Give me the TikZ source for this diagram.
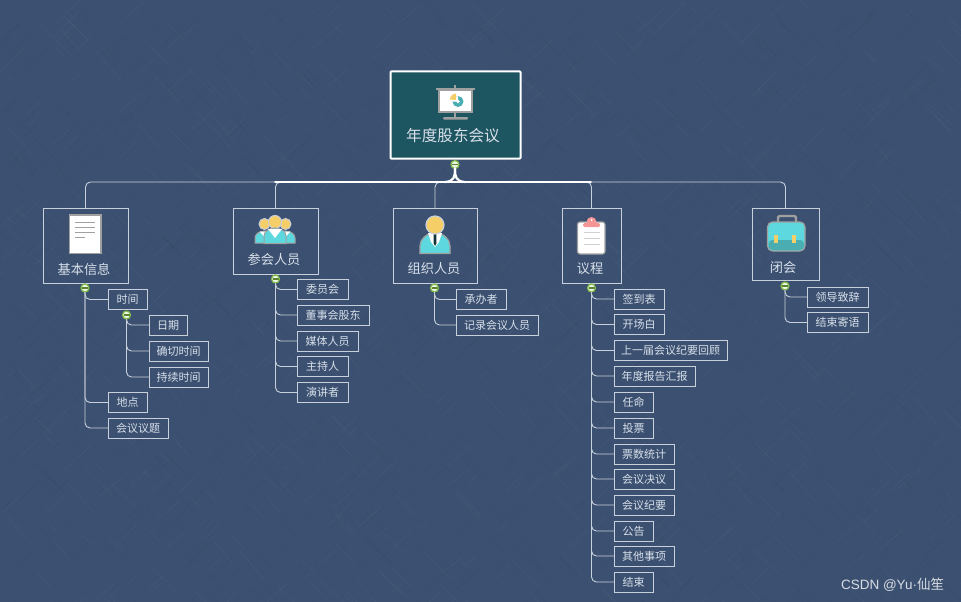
\documentclass[tikz,border=0pt]{standalone}
\usepackage{fontspec}
\setmainfont{Noto Sans CJK SC}
\newfontfamily\marksans{Liberation Sans}
\usepackage{xcolor}
\definecolor{colorbg}{RGB}{60,81,113}
\definecolor{colorroot}{RGB}{29,85,96}
\definecolor{colorline}{RGB}{200,208,220}
\definecolor{colortext}{RGB}{216,224,234}
\definecolor{colorgrn}{RGB}{130,188,72}
\definecolor{colorgrey}{RGB}{160,160,160}
\definecolor{colorteal}{RGB}{92,216,222}
\definecolor{colorsun}{RGB}{246,206,104}
\definecolor{colorpink}{RGB}{244,150,150}

\tikzset{
  every node/.style={outer sep=0pt, inner sep=0pt, text=colortext},
  rootbox/.style={draw=white, fill=colorroot, line width=2pt, minimum width=130pt, minimum height=87pt, rounded corners=0.8pt},
  catbox/.style={draw=colorline, line width=0.9pt},
  leafbox/.style={draw=colorline, line width=0.9pt, minimum height=20pt, font=\fontsize{11}{11}\selectfont},
  cattext/.style={font=\fontsize{13.2}{13.2}\selectfont},
  fold/.style={circle, draw=colorgrn, fill=white!85!colorgrn, line width=1.2pt, minimum size=8pt,
    path picture={\fill[colorgrn!70!black] ([xshift=-3pt,yshift=-0.8pt]path picture bounding box.center) rectangle ([xshift=3pt,yshift=0.8pt]path picture bounding box.center);}},
  link/.style={draw=colorline, line width=0.9pt, rounded corners=5pt},
  bus/.style={draw=white, line cap=round},
  boardicon/.pic={
    \fill[colorgrey] (-1,-17) rectangle (1,-13);
    \fill[colorgrey] (-19,-14.5) rectangle (20,-12.5);
    \draw[colorgrey, fill=white, line width=1.2pt] (-16,-12) rectangle (17,10);
    \fill[colorgrey] (-1,10) rectangle (1,15);
    \fill[colorgrey, rounded corners=1pt] (-12,15) rectangle (13,17.5);
    \fill[colorteal!80!black] (3,-0.5) circle (5.5);
    \fill[white] (3,-0.5) -- (3,-6) arc (-90:-180:5.5) -- cycle;
    \fill[white] (3,-0.5) circle (1.8);
    \fill[colorsun] (1,-2) -- (1,-8.5) arc (-90:-180:6) -- cycle;
  },
  docicon/.pic={
    \draw[colorgrey, fill=white, line width=1.6pt] (-15.5,-19) rectangle (16,19.5);
    \foreach \yy/\xx in {-12/10,-7/10,-2/10,3/0}
      \draw[colorgrey, line width=1pt] (-10,\yy) -- (\xx,\yy);
  },
  teamicon/.pic={
    \foreach \xx in {-10.5,10.5} {
      \draw[colorline, fill=colorsun, line width=1pt] (\xx,-6) circle (5.5);
      \draw[colorgrey, fill=colorteal, line width=1pt] (\xx-9.5,13) -- (\xx-9.5,8) arc (180:360:9.5 and 7) -- (\xx+9.5,13) -- cycle;
      \fill[white] (\xx-5,1.5) -- (\xx+5,1.5) -- (\xx,7) -- cycle;
    }
    \draw[colorline, fill=colorsun, line width=1pt] (0,-8) circle (6.5);
    \draw[colorgrey, fill=colorteal, line width=1pt] (-11,13.5) -- (-11,6) arc (180:360:11 and 8) -- (11,13.5) -- cycle;
    \fill[white] (-7,-1) -- (7,-1) -- (0,8) -- cycle;
  },
  personicon/.pic={
    \draw[colorgrey, fill=colorteal, line width=1.2pt] (-15,19.5) -- (-15,12) arc (180:360:15 and 13) -- (15,19.5) -- cycle;
    \fill[white] (-7,-1) -- (7,-1) -- (4,8) -- (0,13) -- (-4,8) -- cycle;
    \fill[colorroot!60!black] (-1.3,-1) -- (1.3,-1) -- (1.5,9) -- (0,12) -- (-1.5,9) -- cycle;
    \draw[colorline, fill=colorsun, line width=1.2pt] (0,-9) circle (9);
  },
  clipicon/.pic={
    \draw[colorgrey, fill=white, line width=1.2pt, rounded corners=2.5pt] (-13.5,-12) rectangle (14,20);
    \fill[colorpink, rounded corners=1.5pt] (-8,-11) rectangle (9,-7);
    \fill[colorpink] (0.5,-12) circle (5);
    \fill[white] (0.5,-14) circle (1);
    \foreach \yy in {-2,4,10}
      \draw[colorgrey!50, line width=1pt] (-7,\yy) -- (9,\yy);
  },
  bagicon/.pic={
    \draw[colorgrey, line width=2.4pt, rounded corners=2pt] (-7,-10) -- (-7,-16) -- (11,-16) -- (11,-10);
    \draw[colorgrey, fill=colorteal, line width=1.2pt, rounded corners=5pt] (-17.5,-10) rectangle (20,19);
    \fill[colorteal!80!black, rounded corners=4pt] (-16.5,8) rectangle (19,18);
    \fill[colorsun] (-11,3) rectangle (-7,11);
    \fill[colorsun] (7,3) rectangle (11,11);
  },
}

\begin{document}
\begin{tikzpicture}[x=1pt,y=-1pt]
\useasboundingbox (0,0) rectangle (961,602);

% background
\fill[colorbg] (0,0) rectangle (961,602);
\pgfmathsetseed{42}
\begin{scope}
\clip (0,0) rectangle (961,602);
\foreach \i in {1,...,1800} {
  \pgfmathsetmacro{\xa}{rnd*961}
  \pgfmathsetmacro{\ya}{rnd*602}
  \pgfmathsetmacro{\len}{10+rnd*30}
  \pgfmathsetmacro{\ang}{(mod(\i,2)==0 ? 42 : 133)+rnd*8}
  \pgfmathsetmacro{\shade}{mod(\i,3)==0 ? "white" : "black"}
  \draw[\shade, opacity=0.04, line width=0.5pt] (\xa,\ya) -- ++(\ang:\len);
}
\end{scope}

% root
\node[rootbox] (root) at (455.5,115) {};
\pic at (455,102) {boardicon};
\node[font=\fontsize{15.6}{15.6}\selectfont] (roottext) at (453,136) {年度股东会议};
\node[fold] (foldroot) at (455,164.5) {};

% categories
\node[catbox, minimum width=85pt, minimum height=75pt] (info) at (85.5,245.5) {};
\node[catbox, minimum width=85pt, minimum height=66pt] (attend) at (275.5,241) {};
\node[catbox, minimum width=84pt, minimum height=75pt] (organ) at (435,245.5) {};
\node[catbox, minimum width=59pt, minimum height=75pt] (agenda) at (591.5,245.5) {};
\node[catbox, minimum width=67pt, minimum height=72pt] (closing) at (785.5,244) {};

\pic at (85,234) {docicon};
\pic at (275,230) {teamicon};
\pic at (435,234) {personicon};
\pic at (591,234) {clipicon};
\pic at (785,232) {bagicon};

\node[cattext] (infotext) at (84,269) {基本信息};
\node[cattext] (attendtext) at (274,259) {参会人员};
\node[cattext] (organtext) at (434,269) {组织人员};
\node[cattext] (agendatext) at (590,269) {议程};
\node[cattext] (closingtext) at (783,267) {闭会};

% trunk
\coordinate (fork) at (455,182);
\coordinate (busleft) at (275,182);
\coordinate (busright) at (591,182);
\coordinate (coreleft) at (405,182);
\coordinate (coreright) at (505,182);
\foreach \cat in {info,attend,organ,agenda,closing}
  \draw[link] (fork) -| (\cat.north);
\draw[bus, line width=1.5pt] (busleft) -- (busright);
\draw[bus, line width=2.2pt] (coreleft) -- (coreright);
\draw[bus, line width=2.2pt] (foldroot.south) .. controls (455,177) and (454,181.5) .. (445,182);
\draw[bus, line width=2.2pt] (foldroot.south) .. controls (455,177) and (456,181.5) .. (465,182);

% leaves of info
\node[fold] (foldinfo) at (85,288) {};
\node[leafbox, minimum width=39pt] (time) at (127.5,299.5) {时间};
\node[fold] (foldtime) at (126.5,315) {};
\node[leafbox, minimum width=38pt] (date) at (168,325) {日期};
\node[leafbox, minimum width=59pt] (exact) at (178.5,351) {确切时间};
\node[leafbox, minimum width=59pt] (span) at (178.5,377) {持续时间};
\node[leafbox, minimum width=39pt] (place) at (127.5,402.5) {地点};
\node[leafbox, minimum width=60pt] (topic) at (138,428) {会议议题};
\foreach \leaf in {time,place,topic}
  \draw[link] (foldinfo.south) |- (\leaf.west);
\foreach \leaf in {date,exact,span}
  \draw[link] (foldtime.south) |- (\leaf.west);

% leaves of attend
\node[fold] (foldattend) at (275.5,279) {};
\node[leafbox, minimum width=51pt] (board) at (322.5,289.5) {委员会};
\node[leafbox, minimum width=72pt] (holder) at (333,315) {董事会股东};
\node[leafbox, minimum width=61pt] (media) at (327.5,341) {媒体人员};
\node[leafbox, minimum width=51pt] (host) at (322.5,366.5) {主持人};
\node[leafbox, minimum width=51pt] (speaker) at (322.5,392.5) {演讲者};
\foreach \leaf in {board,holder,media,host,speaker}
  \draw[link] (foldattend.south) |- (\leaf.west);

% leaves of organ
\node[fold] (foldorgan) at (434.5,288) {};
\node[leafbox, minimum width=50pt] (runner) at (481,299.5) {承办者};
\node[leafbox, minimum width=82pt] (scribe) at (497,325) {记录会议人员};
\foreach \leaf in {runner,scribe}
  \draw[link] (foldorgan.south) |- (\leaf.west);

% leaves of agenda
\node[fold] (foldagenda) at (591.5,288) {};
\foreach \leaf/\wid/\yy/\txt in {
    signin/50/299/签到表,
    opening/50/324.5/开场白,
    lastmin/113/350.5/上一届会议纪要回顾,
    report/81/376/年度报告汇报,
    appoint/39/402/任命,
    ballot/39/428/投票,
    count/60/454/票数统计,
    resolve/60/479/会议决议,
    minutes/60/505/会议纪要,
    notice/39/531/公告,
    others/60/556/其他事项,
    finish/39/582/结束} {
  \node[leafbox, minimum width=\wid pt, anchor=west] (\leaf) at (614,\yy) {\txt};
  \draw[link] (foldagenda.south) |- (\leaf.west);
}

% leaves of closing
\node[fold] (foldclosing) at (785,286) {};
\node[leafbox, minimum width=61pt] (speech) at (837.5,297) {领导致辞};
\node[leafbox, minimum width=61pt] (closeword) at (837.5,322.5) {结束寄语};
\foreach \leaf in {speech,closeword}
  \draw[link] (foldclosing.south) |- (\leaf.west);

% watermark
\node[anchor=east, text=white!80!colorbg, font=\fontsize{13.5}{13.5}\selectfont] (mark) at (944,585) {{\marksans CSDN @Yu·}仙笙};

\end{tikzpicture}
\end{document}
